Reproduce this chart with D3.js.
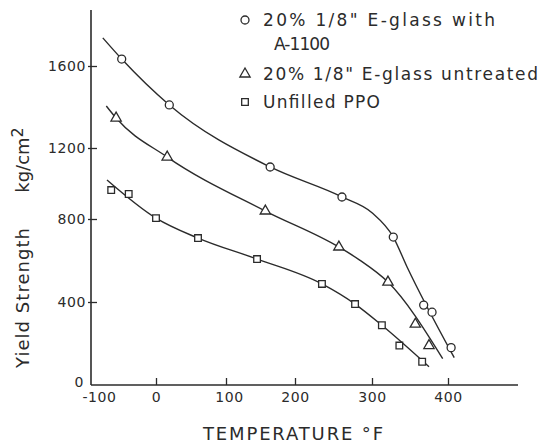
<!DOCTYPE html>
<html><head><meta charset="utf-8">
<script src="https://cdn.jsdelivr.net/npm/d3@7"></script>
<style>
body{margin:0;background:#fff}
text{font-family:"DejaVu Sans",sans-serif;fill:#2b2b2b}
</style>
</head><body>
<svg id="c" width="540" height="446"></svg>
<script>
// ---- data ----
const xTickValues = [-100, 0, 100, 200, 300, 400];
const yTickValues = [0, 400, 800, 1200, 1600];
const seriesLabels = ["20% 1/8\" E-glass with", "A-1100", "20% 1/8\" E-glass untreated", "Unfilled PPO"];
const xTitle = "TEMPERATURE °F";

// measured points
const a1100Temp  = [-49, 19, 164, 261, 328, 368, 379, 404];
const a1100Yield = [1634, 1410, 1093, 924, 713, 385, 351, 180];
const untrTemp   = [-57, 16, 157, 257, 321, 357, 375];
const untrYield  = [1346, 1149, 845, 665, 496, 293, 190];
const ppoTemp    = [-64, -39, 0, 60, 145, 235, 278, 313, 336, 366];
const ppoYield   = [963, 941, 805, 708, 607, 487, 390, 288, 190, 112];

// hand-drawn fitted curves
const a1100FitTemp  = [-76, -49, 19, 164, 261, 300, 328, 346, 408];
const a1100FitYield = [1737, 1634, 1410, 1093, 924, 835, 713, 570, 132];
const untrFitTemp   = [-71, -57, 16, 157, 257, 284, 321, 393];
const untrFitYield  = [1405, 1346, 1149, 845, 665, 602, 496, 127];
const ppoFitTemp    = [-70, 0, 60, 145, 235, 278, 313, 375];
const ppoFitYield   = [1020, 805, 708, 607, 487, 390, 288, 88];

const svg = d3.select("#c");
const ink = "#2b2b2b";

// scales (piecewise to follow the hand-drawn grid)
const x = d3.scaleLinear().domain([-100, 0, 100, 200, 300, 400, 490]).range([86, 156, 226, 295, 372, 448, 518]);
const y = d3.scaleLinear().domain([0, 400, 800, 1200, 1600, 1873]).range([385, 302, 219, 148, 66, 10]);

// axis lines
svg.append("line").attr("x1", 91).attr("x2", 91).attr("y1", y(1873)).attr("y2", y(0)).attr("stroke", ink).attr("stroke-width", 1.6);
svg.append("line").attr("x1", 91).attr("x2", x(490)).attr("y1", y(0)).attr("y2", y(0)).attr("stroke", ink).attr("stroke-width", 1.6);

// y axis
const yAxis = svg.append("g").attr("transform", "translate(91,0)")
  .call(d3.axisLeft(y).tickValues(yTickValues).tickSizeInner(-6).tickSizeOuter(0).tickPadding(5).tickFormat(d3.format("d")));
yAxis.select(".domain").remove();
yAxis.selectAll(".tick line").attr("x1", -3).attr("stroke", ink).attr("stroke-width", 1.3)
  .filter(d => d === 0).remove();
yAxis.selectAll(".tick text").attr("font-size", 14).attr("font-family", "DejaVu Sans").attr("letter-spacing", 0.6).attr("fill", ink)
  .filter(d => d === 0).attr("y", -3).attr("x", -7);

// x axis
const xAxis = svg.append("g").attr("transform", `translate(0,${y(0)})`)
  .call(d3.axisBottom(x).tickValues(xTickValues).tickSizeInner(-7).tickSizeOuter(0).tickPadding(7).tickFormat(d3.format("d")));
xAxis.select(".domain").remove();
xAxis.selectAll(".tick line").attr("stroke", ink).attr("stroke-width", 1.3).filter(d => d === -100).remove();
xAxis.selectAll(".tick text").attr("font-size", 14).attr("font-family", "DejaVu Sans").attr("letter-spacing", 0.6).attr("fill", ink)
  .text(d => d < 0 ? "-" + Math.abs(d) : d)
  .attr("dx", d => d === -100 ? 13 : (d === 100 ? 3 : 0));

// titles
svg.append("text").attr("x", 293).attr("y", 440).attr("text-anchor", "middle").attr("font-size", 18)
  .attr("textLength", 180).attr("lengthAdjust", "spacing").text(xTitle);
svg.append("text").attr("transform", "translate(29,298) rotate(-90)").attr("text-anchor", "middle").attr("font-size", 18)
  .attr("textLength", 140).attr("lengthAdjust", "spacing").text("Yield Strength");
const kg = svg.append("text").attr("transform", "translate(29,160) rotate(-90)").attr("text-anchor", "middle").attr("font-size", 18);
kg.append("tspan").text("kg/cm");
kg.append("tspan").attr("dy", -6).attr("font-size", 16).text("2");

// curves
const line = d3.line().x(d => x(d[0])).y(d => y(d[1])).curve(d3.curveMonotoneX);
const fits = [
  d3.zip(a1100FitTemp, a1100FitYield),
  d3.zip(untrFitTemp, untrFitYield),
  d3.zip(ppoFitTemp, ppoFitYield)
];
fits.forEach(f => svg.append("path").attr("d", line(f)).attr("fill", "none").attr("stroke", ink).attr("stroke-width", 1.4));

// markers
const sym = {
  triangle: d3.symbol().type(d3.symbolTriangle).size(46)(),
  square: d3.symbol().type(d3.symbolSquare).size(44)()
};
function marker(g, kind, cx, cy) {
  if (kind === "circle") {
    g.append("circle").attr("cx", cx).attr("cy", cy).attr("r", 4)
      .attr("fill", "#fff").attr("stroke", ink).attr("stroke-width", 1.3);
  } else {
    g.append("path").attr("d", sym[kind]).attr("transform", `translate(${cx},${cy})`)
      .attr("fill", "#fff").attr("stroke", ink).attr("stroke-width", 1.3);
  }
}
const mg = svg.append("g");
d3.zip(a1100Temp, a1100Yield).forEach(d => marker(mg, "circle", x(d[0]), y(d[1])));
d3.zip(untrTemp, untrYield).forEach(d => marker(mg, "triangle", x(d[0]), y(d[1])));
d3.zip(ppoTemp, ppoYield).forEach(d => marker(mg, "square", x(d[0]), y(d[1])));

// legend
const lg = svg.append("g");
marker(lg, "circle", 245, 20);
marker(lg, "triangle", 245, 74);
marker(lg, "square", 245, 102);
const lt = [
  {t: seriesLabels[0], x: 263, y: 26, w: 232},
  {t: seriesLabels[1], x: 274, y: 50, w: 56},
  {t: seriesLabels[2], x: 263, y: 80, w: 275},
  {t: seriesLabels[3], x: 263, y: 108, w: 117}
];
lt.forEach(o => lg.append("text").attr("x", o.x).attr("y", o.y).attr("font-size", 17)
  .attr("textLength", o.w).attr("lengthAdjust", "spacing").text(o.t));
</script>
</body></html>
